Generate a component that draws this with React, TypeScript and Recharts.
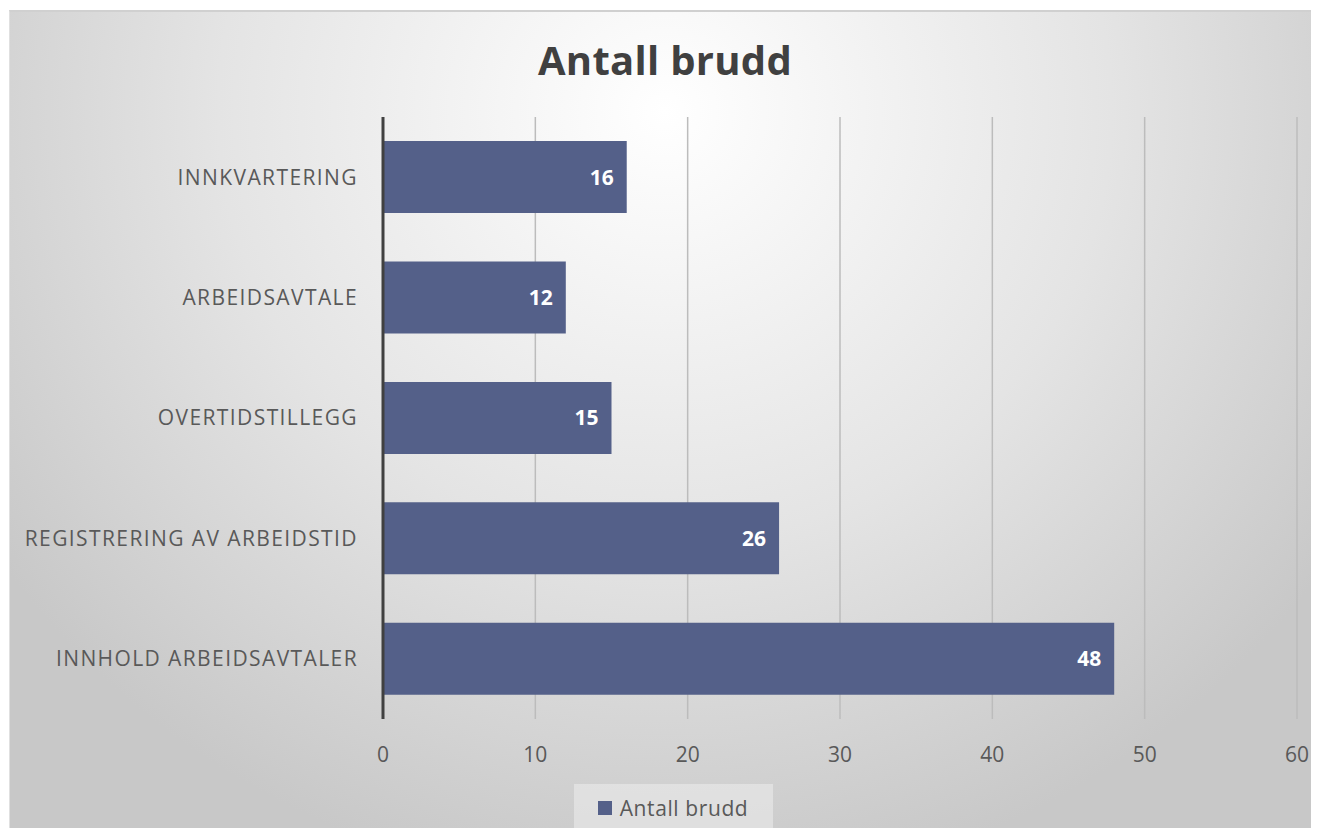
import { BarChart, Bar, XAxis, YAxis, CartesianGrid, LabelList, Legend } from 'recharts';

const categories = [
  'INNKVARTERING',
  'ARBEIDSAVTALE',
  'OVERTIDSTILLEGG',
  'REGISTRERING AV ARBEIDSTID',
  'INNHOLD ARBEIDSAVTALER',
];
const antallBrudd = [16, 12, 15, 26, 48];
const xTicks = [0, 10, 20, 30, 40, 50, 60];

const data = categories.map((name, i) => ({ name, value: antallBrudd[i] }));

const FONT = '"Open Sans", sans-serif';
const BAR_COLOR = '#546089';

// legend box like the Excel one
const renderLegend = () => (
  <div
    style={{
      width: 199,
      height: 47,
      margin: '0 auto',
      background: 'rgba(235,235,235,0.6)',
      display: 'flex',
      alignItems: 'center',
      justifyContent: 'center',
      fontFamily: FONT,
      fontSize: 21,
      letterSpacing: 0.6,
      color: '#595959',
    }}
  >
    <span style={{ width: 14, height: 14, background: BAR_COLOR, marginRight: 8, display: 'inline-block' }} />
    Antall brudd
  </div>
);

export default function App() {
  return (
    <div style={{ position: 'relative', margin: -8, width: 1319, height: 836, background: '#fff' }}>
      <div
        style={{
          position: 'absolute',
          left: 9,
          top: 10,
          width: 1310,
          height: 826,
          borderTop: '2px solid #d0d0d0',
          borderLeft: '1px solid #e0e0e0',
          background: 'radial-gradient(ellipse 62% 95% at 50% 12%, #ffffff 0%, #e4e4e4 55%, #c8c8c8 100%)',
          overflow: 'hidden',
        }}
      >
        <div
          style={{
            position: 'absolute',
            top: 20,
            left: 0,
            width: '100%',
            textAlign: 'center',
            fontFamily: FONT,
            fontWeight: 700,
            fontSize: 40,
            letterSpacing: 0.3,
            lineHeight: '56px',
            color: '#404040',
          }}
        >
          Antall brudd
        </div>
        <BarChart
          width={1310}
          height={826}
          data={data}
          layout="vertical"
          margin={{ top: 105, right: 23, bottom: 32, left: 0 }}
          barCategoryGap="20%"
        >
          <CartesianGrid horizontal={false} stroke="#bcbcbc" strokeWidth={1.5} />
          <XAxis
            type="number"
            domain={[0, 60]}
            ticks={xTicks}
            axisLine={false}
            tickLine={false}
            tickSize={0}
            tickMargin={28}
            height={40}
            tick={{ fill: '#595959', fontSize: 21, fontFamily: FONT }}
          />
          <YAxis
            type="category"
            dataKey="name"
            width={373}
            axisLine={{ stroke: '#404040', strokeWidth: 3 }}
            tickLine={false}
            tickSize={0}
            tickMargin={25}
            tick={{ fill: '#595959', fontSize: 21, fontFamily: FONT, letterSpacing: 1.4 }}
          />
          <Legend
            verticalAlign="bottom"
            content={renderLegend}
            wrapperStyle={{ bottom: 7, left: 8, width: 1310 }}
          />
          <Bar dataKey="value" name="Antall brudd" fill={BAR_COLOR} isAnimationActive={false}>
            <LabelList
              dataKey="value"
              position="insideRight"
              offset={13}
              fill="#ffffff"
              fontWeight={700}
              fontSize={21}
              fontFamily={FONT}
            />
          </Bar>
        </BarChart>
      </div>
    </div>
  );
}
